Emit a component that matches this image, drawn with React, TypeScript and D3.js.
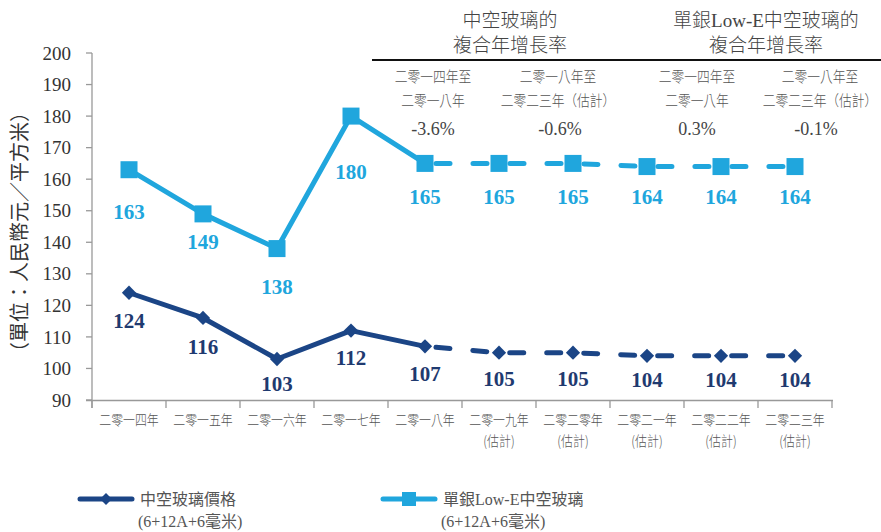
import React, { useEffect, useRef } from "react";
import * as d3 from "d3";

const categories = ["二零一四年", "二零一五年", "二零一六年", "二零一七年", "二零一八年", "二零一九年", "二零二零年", "二零二一年", "二零二二年", "二零二三年"];
const estimated = [false, false, false, false, false, true, true, true, true, true];
const insulatingPrice = [124, 116, 103, 112, 107, 105, 105, 104, 104, 104];
const lowEPrice = [163, 149, 138, 180, 165, 165, 165, 164, 164, 164];
const yTicks = [90, 100, 110, 120, 130, 140, 150, 160, 170, 180, 190, 200];
const lowELabelDy = [42, 28, 38, 56, 33, 33, 33, 30, 30, 30];
const insulatingLabelDy = [28, 29, 25, 27, 27, 26, 26, 24, 24, 24];
const headerGroups = [
  { lines: ["中空玻璃的", "複合年增長率"], center: 510 },
  { lines: ["單銀Low-E中空玻璃的", "複合年增長率"], center: 766 },
];
const cagrPeriods = [
  { lines: ["二零一四年至", "二零一八年"], value: "-3.6%", center: 433, vcenter: 433 },
  { lines: ["二零一八年至", "二零二三年（估計）"], value: "-0.6%", center: 558, vcenter: 560 },
  { lines: ["二零一四年至", "二零一八年"], value: "0.3%", center: 697, vcenter: 697 },
  { lines: ["二零一八年至", "二零二三年（估計）"], value: "-0.1%", center: 820, vcenter: 816 },
];
const legendItems = [
  { name: "中空玻璃價格", sub: "(6+12A+6毫米)", color: "#1b4586", marker: "diamond", x: 80 },
  { name: "單銀Low-E中空玻璃", sub: "(6+12A+6毫米)", color: "#20a6dd", marker: "square", x: 383 },
];

const W = 881, H = 532;
const LIGHT = "#20a6dd";
const DARK = "#1b4586";
const SERIF = "'Liberation Serif', 'Noto Sans CJK TC', serif";
const CJK = "'Noto Sans CJK TC', 'Liberation Serif', sans-serif";

export default function App() {
  const ref = useRef<SVGSVGElement | null>(null);
  useEffect(() => {
    const svg = d3.select(ref.current);
    svg.selectAll("*").remove();
    const x = d3.scaleBand<string>().domain(categories).range([92, 832]).padding(0);
    const y = d3.scaleLinear().domain([90, 200]).range([400, 53]);
    const cx = (i: number) => (x(categories[i]) as number) + x.bandwidth() / 2;
    const condensed = (px: number, py: number, txt: string, size: number, fill: string) =>
      svg.append("text").attr("transform", `translate(${px},${py}) scale(0.85,1)`).attr("text-anchor", "middle")
        .attr("font-family", CJK).attr("font-weight", 300).attr("font-size", size).attr("fill", fill).text(txt);

    // y axis
    const g = svg.append("g");
    g.append("line").attr("x1", 92).attr("x2", 92).attr("y1", y(200)).attr("y2", 408).attr("stroke", "#999").attr("stroke-width", 1.3);
    yTicks.forEach((t) => {
      g.append("line").attr("x1", 86).attr("x2", 92).attr("y1", y(t)).attr("y2", y(t)).attr("stroke", "#999").attr("stroke-width", 1.3);
      g.append("text").attr("x", 71).attr("y", y(t)).attr("dy", "0.35em").attr("text-anchor", "end")
        .attr("font-family", SERIF).attr("font-size", 19).attr("fill", "#333").text(String(t));
    });
    // x axis
    g.append("line").attr("x1", 86).attr("x2", 833).attr("y1", 400.5).attr("y2", 400.5).attr("stroke", "#999").attr("stroke-width", 1.3);
    const edges = [...categories.map((c) => x(c) as number), 832];
    edges.forEach((e) => {
      g.append("line").attr("x1", e).attr("x2", e).attr("y1", 400).attr("y2", 408).attr("stroke", "#999").attr("stroke-width", 1.3);
    });
    categories.forEach((c, i) => {
      condensed(cx(i), 425, c, 14, "#555");
      if (estimated[i]) condensed(cx(i), 446, "(估計)", 14, "#555");
    });
    // y title
    svg.append("text").attr("transform", `translate(27,232) rotate(-90)`).attr("text-anchor", "middle")
      .attr("font-family", CJK).attr("font-size", 20).attr("fill", "#333").text("（單位：人民幣元／平方米）");

    // header
    headerGroups.forEach((h) => {
      h.lines.forEach((l, k) => {
        svg.append("text").attr("x", h.center).attr("y", 27 + k * 25).attr("text-anchor", "middle")
          .attr("font-family", SERIF).attr("font-weight", 300).attr("font-size", 19).attr("fill", "#444").text(l);
      });
    });
    svg.append("line").attr("x1", 372).attr("x2", 881).attr("y1", 60).attr("y2", 60).attr("stroke", "#111").attr("stroke-width", 2.2);
    cagrPeriods.forEach((p) => {
      p.lines.forEach((l, k) => condensed(p.center, 82 + k * 24, l, 15, "#555"));
      svg.append("text").attr("x", p.vcenter).attr("y", 135).attr("text-anchor", "middle")
        .attr("font-family", SERIF).attr("font-size", 18).attr("fill", "#444").text(p.value);
    });

    const drawSeries = (vals: number[], color: string, marker: string, dys: number[], labelColor: string) => {
      const idx = vals.map((_, i) => i);
      const solid = idx.filter((i) => i <= 4);
      const dashed = idx.filter((i) => i >= 4);
      const ln = d3.line<number>().x((i) => cx(i)).y((i) => y(vals[i]));
      svg.append("path").attr("d", ln(solid))
        .attr("fill", "none").attr("stroke", color).attr("stroke-width", 5).attr("stroke-linejoin", "round");
      svg.append("path").attr("d", ln(dashed))
        .attr("fill", "none").attr("stroke", color).attr("stroke-width", 5).attr("stroke-linecap", "round")
        .attr("stroke-dasharray", "14 23").attr("stroke-dashoffset", -11);
      vals.forEach((v, i) => {
        if (marker === "square") {
          svg.append("rect").attr("x", cx(i) - 8.5).attr("y", y(v) - 8.5).attr("width", 17).attr("height", 17).attr("fill", color);
        } else {
          svg.append("path").attr("d", d3.symbol(d3.symbolDiamond2, 130)()).attr("transform", `translate(${cx(i)},${y(v)})`).attr("fill", color);
        }
        svg.append("text").attr("x", cx(i)).attr("y", y(v) + dys[i]).attr("dy", "0.35em").attr("text-anchor", "middle")
          .attr("font-family", SERIF).attr("font-weight", "bold").attr("font-size", 21).attr("fill", labelColor).text(String(v));
      });
    };
    drawSeries(lowEPrice, LIGHT, "square", lowELabelDy, LIGHT);
    drawSeries(insulatingPrice, DARK, "diamond", insulatingLabelDy, "#1f3a70");

    // legend
    legendItems.forEach((it) => {
      svg.append("line").attr("x1", it.x).attr("x2", it.x + 52).attr("y1", 499).attr("y2", 499)
        .attr("stroke", it.color).attr("stroke-width", 5).attr("stroke-linecap", "round");
      if (it.marker === "square") {
        svg.append("rect").attr("x", it.x + 26 - 7).attr("y", 499 - 7).attr("width", 14).attr("height", 14).attr("fill", it.color);
      } else {
        svg.append("path").attr("d", d3.symbol(d3.symbolDiamond2, 90)()).attr("transform", `translate(${it.x + 26},499)`).attr("fill", it.color);
      }
      svg.append("text").attr("x", it.x + 60).attr("y", 505).attr("font-family", SERIF).attr("font-size", 16).attr("fill", "#555").text(it.name);
      svg.append("text").attr("x", it.x + 58).attr("y", 527).attr("font-family", SERIF).attr("font-size", 16).attr("fill", "#555").text(it.sub);
    });
  }, []);
  return (
    <svg ref={ref} width={W} height={H} style={{ position: "absolute", left: 0, top: 0, background: "#fff" }} />
  );
}
